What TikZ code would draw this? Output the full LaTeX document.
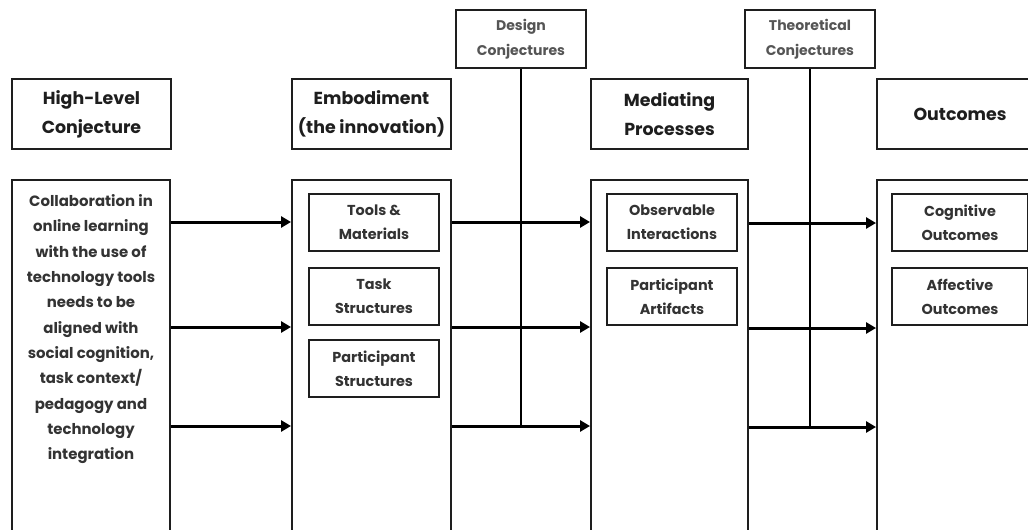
\documentclass[tikz,border=0pt]{standalone}
\usepackage{fontspec}
\setmainfont{Poppins}
\usetikzlibrary{arrows.meta}
\definecolor{ink}{HTML}{1E1E1E}
\definecolor{softink}{HTML}{333333}
\definecolor{greyink}{HTML}{555555}
\begin{document}
\begin{tikzpicture}[x=0.02cm, y=-0.02cm, thick,
    box/.style={rectangle, draw=ink, line width=1.1pt, inner sep=0pt, align=center},
    head/.style={box, minimum width=3.18cm, minimum height=1.4cm, text=ink,
      font=\fontsize{9.9}{16.5}\selectfont\bfseries},
    body/.style={box, minimum width=3.18cm, minimum height=7.6cm},
    part/.style={box, minimum width=2.6cm, minimum height=1.14cm, text=softink,
      font=\fontsize{8.2}{13.6}\selectfont\bfseries},
    conj/.style={box, minimum width=2.6cm, minimum height=1.16cm, text=greyink,
      font=\fontsize{8}{14}\selectfont\bfseries},
    arr/.style={line width=1.7pt, draw=black, -{Triangle[length=0.2cm, width=0.22cm]}},
    link/.style={line width=1.5pt, draw=black}]
  \useasboundingbox (0,0) rectangle (1028,529);
  \clip (0,0) rectangle (1028,529);

  % column heads
  \node[head] (hlc) at (91.5,114) {High-Level\\Conjecture};
  \node[head] (emb) at (371.5,114) {Embodiment\\(the innovation)};
  \node[head, minimum width=3.14cm] (med) at (669.5,114) {Mediating\\Processes};
  \node[head, minimum width=3.32cm] (out) at (960,114) {Outcomes};

  % conjecture boxes
  \node[conj] (dc) at (521,39) {Design\\Conjectures};
  \node[conj] (tc) at (810,39) {Theoretical\\Conjectures};

  % column bodies
  \node[body, minimum width=3.16cm] (hlcb) at (91,370) {};
  \node[body] (embb) at (371.5,370) {};
  \node[body, minimum width=3.14cm] (medb) at (669.5,370) {};
  \node[body, minimum width=3.32cm] (outb) at (960,370) {};

  \node[anchor=north, align=center, text=softink, inner sep=0pt,
    font=\fontsize{8.5}{14.4}\selectfont\bfseries] (hlctext) at (91,194)
    {Collaboration in\\online learning\\with the use of\\technology tools\\needs to be\\aligned with\\social cognition,\\task context/\\pedagogy and\\technology\\integration};

  \node[part] (tools) at (374,222.5) {Tools \&\\Materials};
  \node[part] (task) at (374,296.5) {Task\\Structures};
  \node[part] (pstruct) at (374,368.5) {Participant\\Structures};

  \node[part] (obs) at (672,222.5) {Observable\\Interactions};
  \node[part] (artif) at (672,296.5) {Participant\\Artifacts};

  \node[part, minimum width=2.72cm] (cog) at (960,222.5) {Cognitive\\Outcomes};
  \node[part, minimum width=2.72cm] (aff) at (960,296.5) {Affective\\Outcomes};

  % rows of arrows
  \coordinate (r1) at (0,222);
  \coordinate (r2) at (0,327);
  \coordinate (r3) at (0,426);
  \coordinate (s1) at (0,223);
  \coordinate (s2) at (0,328);
  \coordinate (s3) at (0,427);

  \draw[link] (dc.south) -- (dc.south |- r3);
  \draw[link] (tc.south) -- (tc.south |- s3);

  \foreach \r in {r1,r2,r3} {
    \draw[arr] (hlcb.east |- \r) -- (embb.west |- \r);
    \draw[arr] (embb.east |- \r) -- (medb.west |- \r);
  }
  \foreach \r in {s1,s2,s3}
    \draw[arr] (medb.east |- \r) -- (outb.west |- \r);
\end{tikzpicture}
\end{document}
